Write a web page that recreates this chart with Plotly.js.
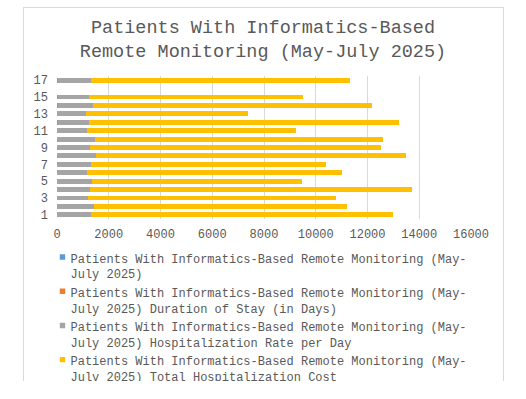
<!DOCTYPE html>
<html>
<head>
<meta charset="utf-8">
<script src="https://cdn.plot.ly/plotly-3.0.1.min.js"></script>
<style>
  html, body { margin: 0; padding: 0; background: #fff; }
  #wrap { position: relative; width: 526px; height: 381px; overflow: hidden; }
  #chart { width: 526px; height: 399px; }
  #frame { position: absolute; left: 23px; top: 7px; width: 479px; height: 373px;
           border: 1px solid #d9d9d9; pointer-events: none; }
  #chart .legendpoints path { transform: translate(32px, -1px) scale(0.45); }
</style>
</head>
<body>
<div id="wrap">
  <div id="chart"></div>
  <div id="frame"></div>
</div>
<script>
// Categories (row labels)
var categories = ['1','2','3','4','5','6','7','8','9','10','11','12','13','14','15','16','17'];
var tickLabels = ['1','3','5','7','9','11','13','15','17'];

// Series values (row 16 has no data)
var patientNo    = [1, 2, 3, 4, 5, 6, 7, 8, 9, 10, 11, 12, 13, 14, 15, null, 17];
var durationDays = [9, 7, 8, 10, 6, 9, 7, 8, 9, 8, 7, 10, 6, 8, 7, null, 8];
var ratePerDay   = [1310, 1430, 1190, 1270, 1350, 1130, 1310, 1510, 1270, 1440, 1160, 1230, 1090, 1350, 1210, null, 1270];
var totalCost    = [11680, 9750, 9600, 12450, 8090, 9850, 9090, 11980, 11220, 11160, 8050, 11950, 6270, 10790, 8270, null, 10020];

var seriesNames = [
  'Patients With Informatics-Based Remote Monitoring (May-<br>July 2025)',
  'Patients With Informatics-Based Remote Monitoring (May-<br>July 2025) Duration of Stay (in Days)',
  'Patients With Informatics-Based Remote Monitoring (May-<br>July 2025) Hospitalization Rate per Day',
  'Patients With Informatics-Based Remote Monitoring (May-<br>July 2025) Total Hospitalization Cost'
];
var seriesValues = [patientNo, durationDays, ratePerDay, totalCost];
var seriesColors = ['#5b9bd5', '#ed7d31', '#a5a5a5', '#ffc000'];

var mono = 'Liberation Mono, Courier New, monospace';
var txt = '#595959';

var traces = seriesValues.map(function (vals, i) {
  return {
    type: 'bar',
    orientation: 'h',
    y: categories,
    x: vals,
    name: seriesNames[i],
    legendgroup: 'g' + i,
    marker: { color: seriesColors[i] },
    hoverinfo: 'x+y+name'
  };
});

var layout = {
  width: 526,
  height: 399,
  paper_bgcolor: 'rgba(0,0,0,0)',
  plot_bgcolor: 'rgba(0,0,0,0)',
  barmode: 'stack',
  bargap: 0.42,
  margin: { l: 56.5, r: 55.3, t: 75.5, b: 179.8, autoexpand: false },
  title: {
    text: 'Patients With Informatics-Based<br>Remote Monitoring (May-July 2025)',
    font: { family: mono, size: 18.5, color: txt },
    x: 0.5, xanchor: 'center',
    yref: 'container', y: 0.917, yanchor: 'top'
  },
  xaxis: {
    range: [0, 16000],
    tickvals: [0, 2000, 4000, 6000, 8000, 10000, 12000, 14000, 16000],
    ticktext: ['0', '2000', '4000', '6000', '8000', '10000', '12000', '14000', '16000'],
    showgrid: true,
    gridcolor: '#d9d9d9',
    gridwidth: 1,
    zeroline: false,
    showline: false,
    ticks: '',
    ticklabelstandoff: 6,
    tickfont: { family: mono, size: 12, color: txt },
    fixedrange: true
  },
  yaxis: {
    type: 'category',
    categoryorder: 'array',
    categoryarray: categories,
    tickvals: tickLabels,
    ticktext: tickLabels,
    showgrid: false,
    zeroline: false,
    showline: false,
    ticks: '',
    ticklabelstandoff: 8,
    tickfont: { family: mono, size: 12, color: txt },
    fixedrange: true
  },
  showlegend: true,
  legend: {
    orientation: 'v',
    traceorder: 'normal',
    valign: 'top',
    x: -0.064, xanchor: 'left',
    y: -0.173, yanchor: 'top',
    font: { family: mono, size: 12, color: txt },
    tracegroupgap: 5,
    itemwidth: 30,
    bgcolor: 'rgba(0,0,0,0)'
  }
};

Plotly.newPlot('chart', traces, layout, { displayModeBar: false, staticPlot: true });
</script>
</body>
</html>
